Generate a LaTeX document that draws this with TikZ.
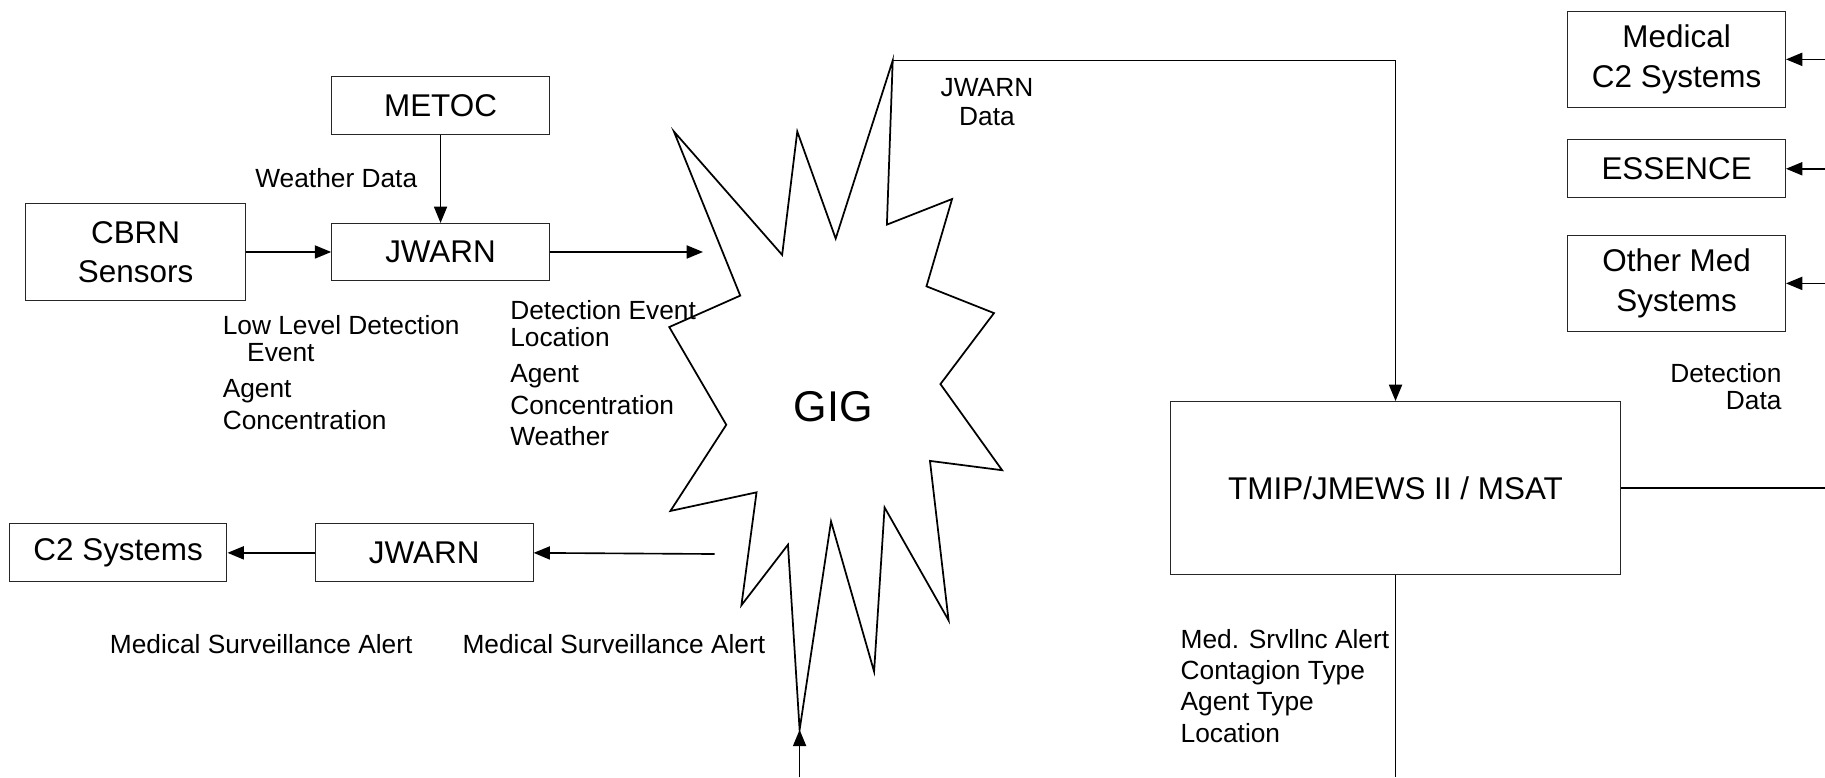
\documentclass[tikz,border=0pt]{standalone}
\usepackage{fontspec}
\setmainfont{Liberation Sans}
\usetikzlibrary{arrows.meta}
\begin{document}
\begin{tikzpicture}[x=0.5pt,y=-0.5pt,
  box/.style={draw=black!85,line width=0.45pt,inner sep=0pt,minimum width=93.5pt,align=center,font=\fontsize{13.5}{17}\selectfont},
  conn/.style={line width=0.7pt},
  arr/.style={conn,-{Triangle[length=7pt,width=5.6pt]}},
  lbl/.style={inner sep=0pt,font=\fontsize{11.3}{11.5}\selectfont},
  starline/.style={line width=0.75pt,line join=miter}
]
\useasboundingbox[fill=white] (0,0) rectangle (1568,668);

% boxes
\node[box,minimum height=25pt] (metoc) at (378.5,90.5) {METOC};
\node[box,minimum height=24.5pt] (jw1) at (378.5,216.5) {JWARN};
\node[box,minimum width=94.5pt,minimum height=41.5pt] (cbrn) at (116.5,216.5) {CBRN\\Sensors};
\node[box,minimum height=25pt] (c2) at (101.5,475) {C2 Systems};
\node[box,minimum height=25pt] (jw2) at (364.5,475) {JWARN};
\node[box,minimum width=193pt,minimum height=74.5pt] (tmip) at (1199,419.5) {TMIP/JMEWS II / MSAT};
\node[box,minimum height=41pt] (medc2) at (1440.5,51) {Medical\\C2 Systems};
\node[box,minimum height=25pt] (essence) at (1440.5,145) {ESSENCE};
\node[box,minimum height=41.5pt] (othermed) at (1440.5,243.5) {Other Med\\Systems};

% GIG star
\coordinate (gtop) at (767,52);
\coordinate (gbot) at (687,627);
\draw[starline] (gtop) -- (762,193) -- (818,171) -- (796,246) -- (854,269) -- (808,330)
  -- (861,404) -- (799,396) -- (815,533) -- (760,436) -- (751,577) -- (714,448)
  -- (gbot) -- (677,468) -- (637,520) -- (650,423) -- (576,439) -- (624,365)
  -- (575,281) -- (636,254) -- (579,113) -- (672,219) -- (685,113) -- (718,205) -- cycle;
\node[inner sep=0pt,font=\fontsize{18.5}{20}\selectfont] (gig) at (716,349) {GIG};

% free ends
\coordinate (jw1out) at (604,216.5);
\coordinate (jw2in) at (614,476);
\coordinate (gbotin) at (687,668);
\coordinate (tmipeast) at (1568,419.5);
\coordinate (tmipsouth) at (1199,668);
\coordinate (medc2in) at (1568,51);
\coordinate (essencein) at (1568,145);
\coordinate (othermedin) at (1568,243.5);

% connectors
\draw[arr] (metoc) -- (jw1);
\draw[arr] (cbrn.east) -- (jw1.west);
\draw[arr] (jw1.east) -- (jw1out);
\draw[arr] (jw2in) -- (jw2.east);
\draw[arr] (jw2.west) -- (c2.east);
\draw[arr] (gbotin) -- (gbot);
\draw[arr] (gtop) -| (tmip.north);
\draw[conn] (tmip.east) -- (tmipeast);
\draw[conn] (tmip.south) -- (tmipsouth);
\draw[arr] (medc2in) -- (medc2.east);
\draw[arr] (essencein) -- (essence.east);
\draw[arr] (othermedin) -- (othermed.east);

% labels
\node[lbl,anchor=west] (wd) at (219,153) {Weather Data};
\node[lbl,anchor=north west,align=left] (lld) at (191,271)
  {Low Level Detection\\\hspace*{10.5pt}Event\\[4pt]Agent\\[2pt]Concentration};
\node[lbl,anchor=north west,align=left] (dev) at (438,258)
  {Detection Event\\Location\\[4pt]Agent\\[2pt]Concentration\\[2pt]Weather};
\node[lbl,anchor=north,align=center] (jwd) at (848,67) {JWARN\\[1pt]Data};
\node[lbl,anchor=west] (msa1) at (94,553) {Medical Surveillance Alert};
\node[lbl,anchor=west] (msa2) at (397,553) {Medical Surveillance Alert};
\node[lbl,anchor=north west,align=left] (msrv) at (1014,540)
  {Med. Srvllnc Alert\\[2pt]Contagion Type\\[2pt]Agent Type\\[2pt]Location};
\node[lbl,anchor=north east,align=right] (dd) at (1531,312) {Detection\\Data};
\end{tikzpicture}
\end{document}
